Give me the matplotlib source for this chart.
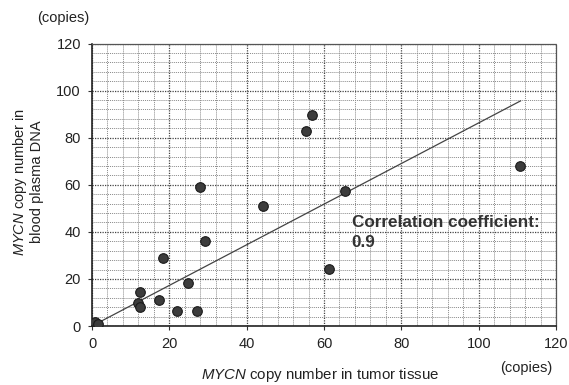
import numpy as np
import matplotlib
matplotlib.use('Agg')
import matplotlib.pyplot as plt
from matplotlib.ticker import MultipleLocator

plt.rcParams['font.family'] = ['Liberation Sans', 'DejaVu Sans']
plt.rcParams['mathtext.fontset'] = 'custom'
plt.rcParams['mathtext.it'] = 'Liberation Sans:italic'
plt.rcParams['mathtext.rm'] = 'Liberation Sans'

# ------------------------------------------------------------------
# data
tumor_copies = [0.3, 0.8, 1.5, 11.8, 12.4, 12.4, 17.4, 18.4, 22.1, 24.9,
                27.2, 27.9, 29.1, 44.1, 55.3, 56.8, 61.2, 65.4, 110.6]
plasma_copies = [0.5, 1.5, 0.8, 9.9, 8.0, 14.6, 11.0, 29.0, 6.5, 18.2,
                 6.2, 58.9, 35.9, 51.0, 82.7, 89.5, 24.3, 57.2, 67.8]
trend_x = [0, 110.8]
trend_y = [0, 95.6]
x_ticks = [0, 20, 40, 60, 80, 100, 120]
y_ticks = [0, 20, 40, 60, 80, 100, 120]
corr_label = 'Correlation coefficient:\n0.9'

fig = plt.figure(figsize=(5.69, 3.85), dpi=100)
ax = fig.add_axes([0.1617, 0.1532, 0.8155, 0.7338])

ax.set_xlim(0, 120)
ax.set_ylim(0, 120)
ax.set_xticks(x_ticks)
ax.set_yticks(y_ticks)
ax.xaxis.set_minor_locator(MultipleLocator(4))
ax.yaxis.set_minor_locator(MultipleLocator(4))

# dotted grid, major lines a bit darker
ax.grid(which='minor', color='#8a8a8a', linestyle=(0, (1, 1)), linewidth=0.7)
ax.grid(which='major', color='#444444', linestyle=(0, (1, 1)), linewidth=0.9)
ax.set_axisbelow(True)
ax.tick_params(which='minor', length=0)
ax.tick_params(which='major', direction='out', length=3, width=0.8,
               labelsize=10.5, color='#333333', labelcolor='#222222')
ax.tick_params(axis='x', pad=5)
ax.tick_params(axis='y', pad=5)

for side in ['left', 'bottom']:
    ax.spines[side].set_color('#222222')
    ax.spines[side].set_linewidth(1.2)
for side in ['top', 'right']:
    ax.spines[side].set_color('#555555')
    ax.spines[side].set_linewidth(0.9)
    ax.spines[side].set_linestyle((0, (1, 1)))

ax.plot(trend_x, trend_y, color='#444444', linewidth=0.9, zorder=3)
ax.scatter(tumor_copies, plasma_copies, s=48, color='#3c3c3c',
           edgecolors='#1a1a1a', linewidths=0.8, zorder=4)

ax.text(67.2, 47, corr_label, fontsize=12.3, fontweight='bold',
        color='#333333', va='top', ha='left', linespacing=1.4, zorder=5)

# labels
fig.text(0.563, 0.026, r'$\it{MYCN}$ copy number in tumor tissue',
         fontsize=10.8, ha='center', va='center', color='#222222')
fig.text(0.049, 0.527, '$\\it{MYCN}$ copy number in\nblood plasma DNA',
         fontsize=10.5, ha='center', va='center', rotation=90,
         color='#222222', linespacing=1.1)
fig.text(0.111, 0.953, '(copies)', fontsize=10.5, ha='center', va='center',
         color='#222222')
fig.text(0.925, 0.044, '(copies)', fontsize=10.5, ha='center', va='center',
         color='#222222')

plt.savefig('out.png', dpi=100)
plt.close()
